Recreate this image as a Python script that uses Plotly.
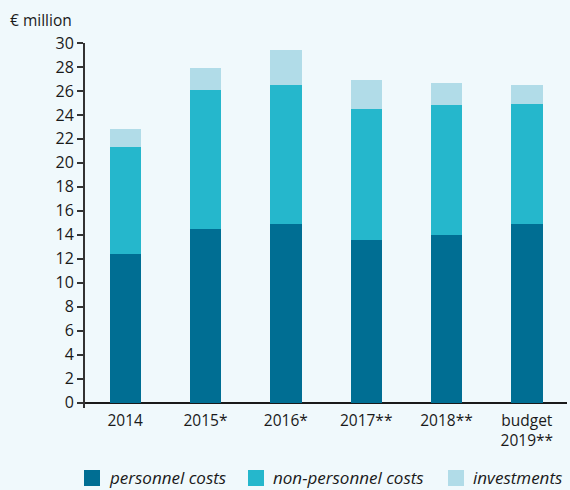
import plotly.graph_objects as go

# Expenditure by year, € million
years = ["2014", "2015*", "2016*", "2017**", "2018**", "budget<br>2019**"]
series_names = ["personnel costs", "non-personnel costs", "investments"]
personnel_costs = [12.4, 14.5, 14.9, 13.6, 14.0, 14.9]
non_personnel_costs = [8.9, 11.6, 11.6, 10.9, 10.8, 10.0]
investments = [1.5, 1.8, 2.9, 2.4, 1.9, 1.6]
y_ticks = list(range(0, 31, 2))

colors = ["#006e93", "#25b7cc", "#b1dce8"]
bg = "#f0f9fc"
text_color = "#1a1a1a"
font_family = "Open Sans, Noto Sans, sans-serif"

W, H = 570, 490
M_L, M_R, M_T, M_B = 85, 3, 43, 82
PLOT_W = W - M_L - M_R
PLOT_H = H - M_T - M_B


def px_x(px):
    """Pixel column -> paper x."""
    return (px - M_L) / PLOT_W


def px_y(py):
    """Pixel row (from top) -> paper y."""
    return (H - M_B - py) / PLOT_H


fig = go.Figure()
for name, values, color in zip(
    series_names, [personnel_costs, non_personnel_costs, investments], colors
):
    fig.add_trace(
        go.Bar(
            x=years,
            y=values,
            name=name,
            marker=dict(color=color, line=dict(width=0)),
            width=0.39,
            showlegend=False,
        )
    )

# Key below the chart: a 16px swatch followed by an italic label
key_left = [84, 248, 448]
key_top, key_size = 470, 16
shapes, annotations = [], []
for name, color, left in zip(series_names, colors, key_left):
    shapes.append(
        dict(
            type="rect",
            xref="paper",
            yref="paper",
            x0=px_x(left),
            x1=px_x(left + key_size),
            y0=px_y(key_top + key_size),
            y1=px_y(key_top),
            fillcolor=color,
            line=dict(width=0),
        )
    )
    annotations.append(
        dict(
            text=name,
            xref="paper",
            yref="paper",
            x=px_x(left + key_size + 7),
            y=px_y(key_top + key_size / 2),
            xanchor="left",
            yanchor="middle",
            showarrow=False,
            font=dict(size=17, style="italic", color=text_color),
        )
    )

annotations.append(
    dict(
        text="€ million",
        xref="paper",
        yref="paper",
        x=px_x(8),
        y=1.0,
        xanchor="left",
        yanchor="bottom",
        yshift=10,
        showarrow=False,
        font=dict(size=15.5, color=text_color),
    )
)

fig.update_layout(
    barmode="stack",
    width=W,
    height=H,
    paper_bgcolor=bg,
    plot_bgcolor=bg,
    margin=dict(l=M_L, r=M_R, t=M_T, b=M_B, autoexpand=False),
    font=dict(family=font_family, size=15, color=text_color),
    showlegend=False,
    xaxis=dict(
        range=[-0.5, 5.5],
        showgrid=False,
        showline=False,
        ticks="",
        tickfont=dict(size=15.5),
        ticklabelstandoff=1,
        automargin=False,
        fixedrange=True,
    ),
    yaxis=dict(
        range=[-0.45, 30],
        tickvals=y_ticks,
        showgrid=False,
        showline=True,
        linecolor="#333333",
        linewidth=2,
        ticks="outside",
        ticklen=6,
        tickwidth=1.5,
        tickcolor="#333333",
        zeroline=True,
        zerolinecolor=text_color,
        zerolinewidth=2,
        tickfont=dict(size=16),
        automargin=False,
        fixedrange=True,
    ),
    shapes=shapes,
    annotations=annotations,
)

fig.write_html("out.html")
